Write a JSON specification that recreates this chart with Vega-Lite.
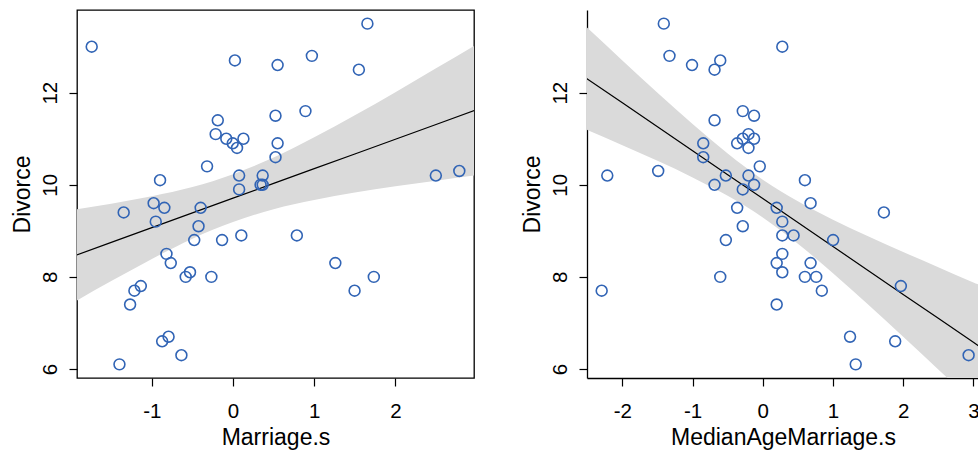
{
  "$schema": "https://vega.github.io/schema/vega-lite/v6.json",
  "padding": {"left": 10, "top": 9, "right": 0, "bottom": 0},
  "autosize": {"type": "pad"},
  "bounds": "flush",
  "spacing": 113,
  "background": "white",
  "config": {
    "view": {"stroke": null},
    "axis": {
      "labelFont": "Liberation Sans",
      "titleFont": "Liberation Sans",
      "labelFontSize": 20.5,
      "titleFontSize": 23,
      "titleFontWeight": "normal",
      "labelColor": "black",
      "titleColor": "black",
      "tickColor": "black",
      "tickSize": 8,
      "tickWidth": 1.2,
      "grid": false,
      "domainColor": "black",
      "domainWidth": 1.3,
      "labelFlush": false,
      "labelOverlap": false,
      "labelExpr": "datum.value < 0 ? '-' + abs(datum.value) : '' + datum.value"
    },
    "axisX": {"labelPadding": 15, "titleY": 66, "titleBaseline": "alphabetic"},
    "axisY": {
      "labelAngle": -90,
      "labelAlign": "center",
      "labelBaseline": "alphabetic",
      "labelPadding": 13,
      "titleX": -48,
      "titleY": 184,
      "titleAngle": -90,
      "titleAlign": "center",
      "titleBaseline": "alphabetic"
    }
  },
  "datasets": {
    "states": [
      {"Location": "Alabama", "M": 0.023, "A": -0.606, "D": 12.7},
      {"Location": "Alaska", "M": 1.55, "A": -0.687, "D": 12.5},
      {"Location": "Arizona", "M": 0.049, "A": -0.204, "D": 10.8},
      {"Location": "Arkansas", "M": 1.655, "A": -1.41, "D": 13.5},
      {"Location": "California", "M": -0.267, "A": 0.6, "D": 8.0},
      {"Location": "Colorado", "M": 0.892, "A": -0.285, "D": 11.6},
      {"Location": "Connecticut", "M": -0.794, "A": 1.243, "D": 6.7},
      {"Location": "Delaware", "M": 0.786, "A": 0.439, "D": 8.9},
      {"Location": "District of Columbia", "M": -0.636, "A": 2.932, "D": 6.3},
      {"Location": "Florida", "M": -0.82, "A": 0.278, "D": 8.5},
      {"Location": "Georgia", "M": 0.523, "A": -0.124, "D": 11.5},
      {"Location": "Hawaii", "M": 1.26, "A": 0.681, "D": 8.3},
      {"Location": "Idaho", "M": 1.497, "A": -2.295, "D": 7.7},
      {"Location": "Illinois", "M": -0.583, "A": 0.761, "D": 8.0},
      {"Location": "Indiana", "M": -0.083, "A": -0.285, "D": 11.0},
      {"Location": "Iowa", "M": 0.365, "A": -0.526, "D": 10.2},
      {"Location": "Kansas", "M": 0.523, "A": -0.848, "D": 10.6},
      {"Location": "Kentucky", "M": 0.549, "A": -1.008, "D": 12.6},
      {"Location": "Louisiana", "M": 0.128, "A": -0.124, "D": 11.0},
      {"Location": "Maine", "M": -1.741, "A": 0.278, "D": 13.0},
      {"Location": "Maryland", "M": -0.478, "A": 1.002, "D": 8.8},
      {"Location": "Massachusetts", "M": -1.136, "A": 1.967, "D": 7.8},
      {"Location": "Michigan", "M": -0.952, "A": 0.278, "D": 9.2},
      {"Location": "Minnesota", "M": -1.268, "A": 0.198, "D": 7.4},
      {"Location": "Mississippi", "M": -0.214, "A": -0.204, "D": 11.1},
      {"Location": "Missouri", "M": -0.399, "A": -0.365, "D": 9.5},
      {"Location": "Montana", "M": -0.425, "A": -0.285, "D": 9.1},
      {"Location": "Nebraska", "M": -0.135, "A": -0.526, "D": 8.8},
      {"Location": "New Hampshire", "M": -0.899, "A": 0.6, "D": 10.1},
      {"Location": "New Jersey", "M": -1.399, "A": 1.324, "D": 6.1},
      {"Location": "New Mexico", "M": 0.075, "A": -0.204, "D": 10.2},
      {"Location": "New York", "M": -0.873, "A": 1.886, "D": 6.6},
      {"Location": "North Carolina", "M": 0.075, "A": -0.285, "D": 9.9},
      {"Location": "North Dakota", "M": 1.734, "A": -0.606, "D": 8.0},
      {"Location": "Ohio", "M": -0.846, "A": 0.198, "D": 9.5},
      {"Location": "Oklahoma", "M": 0.971, "A": -1.329, "D": 12.8},
      {"Location": "Oregon", "M": -0.32, "A": -0.043, "D": 10.4},
      {"Location": "Pennsylvania", "M": -1.215, "A": 0.841, "D": 7.7},
      {"Location": "Rhode Island", "M": -1.347, "A": 1.725, "D": 9.4},
      {"Location": "South Carolina", "M": -0.53, "A": 0.278, "D": 8.1},
      {"Location": "South Dakota", "M": -0.004, "A": -0.365, "D": 10.9},
      {"Location": "Tennessee", "M": -0.188, "A": -0.687, "D": 11.4},
      {"Location": "Texas", "M": 0.365, "A": -0.687, "D": 10.0},
      {"Location": "Utah", "M": 2.498, "A": -2.215, "D": 10.2},
      {"Location": "Vermont", "M": -0.978, "A": 0.681, "D": 9.6},
      {"Location": "Virginia", "M": 0.102, "A": 0.278, "D": 8.9},
      {"Location": "Washington", "M": 0.339, "A": -0.124, "D": 10.0},
      {"Location": "West Virginia", "M": 0.549, "A": -0.848, "D": 10.9},
      {"Location": "Wisconsin", "M": -0.767, "A": 0.198, "D": 8.3},
      {"Location": "Wyoming", "M": 2.787, "A": -1.49, "D": 10.3}
    ],
    "bandM": [
      {"M": -3.0, "lo": 6.37, "mu": 7.79, "hi": 9.21},
      {"M": -2.5, "lo": 6.89, "mu": 8.11, "hi": 9.33},
      {"M": -2.0, "lo": 7.41, "mu": 8.43, "hi": 9.45},
      {"M": -1.5, "lo": 7.91, "mu": 8.75, "hi": 9.59},
      {"M": -1.0, "lo": 8.39, "mu": 9.07, "hi": 9.75},
      {"M": -0.5, "lo": 8.83, "mu": 9.39, "hi": 9.95},
      {"M": 0.0, "lo": 9.19, "mu": 9.71, "hi": 10.23},
      {"M": 0.5, "lo": 9.47, "mu": 10.03, "hi": 10.59},
      {"M": 1.0, "lo": 9.67, "mu": 10.35, "hi": 11.03},
      {"M": 1.5, "lo": 9.83, "mu": 10.67, "hi": 11.51},
      {"M": 2.0, "lo": 9.97, "mu": 10.99, "hi": 12.01},
      {"M": 2.5, "lo": 10.09, "mu": 11.31, "hi": 12.53},
      {"M": 3.0, "lo": 10.21, "mu": 11.63, "hi": 13.05},
      {"M": 3.5, "lo": 10.32, "mu": 11.95, "hi": 13.58}
    ],
    "bandA": [
      {"A": -3.0, "lo": 11.52, "mu": 12.82, "hi": 14.12},
      {"A": -2.5, "lo": 11.19, "mu": 12.3, "hi": 13.41},
      {"A": -2.0, "lo": 10.86, "mu": 11.78, "hi": 12.7},
      {"A": -1.5, "lo": 10.52, "mu": 11.26, "hi": 12.0},
      {"A": -1.0, "lo": 10.16, "mu": 10.74, "hi": 11.32},
      {"A": -0.5, "lo": 9.76, "mu": 10.22, "hi": 10.68},
      {"A": 0.0, "lo": 9.29, "mu": 9.7, "hi": 10.11},
      {"A": 0.5, "lo": 8.72, "mu": 9.18, "hi": 9.64},
      {"A": 1.0, "lo": 8.08, "mu": 8.66, "hi": 9.24},
      {"A": 1.5, "lo": 7.4, "mu": 8.14, "hi": 8.88},
      {"A": 2.0, "lo": 6.7, "mu": 7.62, "hi": 8.54},
      {"A": 2.5, "lo": 5.99, "mu": 7.1, "hi": 8.21},
      {"A": 3.0, "lo": 5.28, "mu": 6.58, "hi": 7.88},
      {"A": 3.5, "lo": 4.56, "mu": 6.06, "hi": 7.56}
    ]
  },
  "hconcat": [
    {
      "width": 397,
      "height": 368,
      "view": {"stroke": "black", "strokeWidth": 1.3},
      "encoding": {
        "x": {
          "field": "M",
          "type": "quantitative",
          "title": "Marriage.s",
          "scale": {"domain": [-1.922, 2.968], "nice": false, "zero": false},
          "axis": {"values": [-1, 0, 1, 2], "domain": false}
        }
      },
      "layer": [
        {
          "data": {"name": "bandM"},
          "mark": {"type": "area", "color": "#DADADA", "clip": true, "interpolate": "monotone"},
          "encoding": {
            "y": {
              "field": "lo",
              "type": "quantitative",
              "title": "Divorce",
              "scale": {"domain": [5.804, 13.796], "nice": false, "zero": false},
              "axis": {"values": [6, 8, 10, 12], "domain": false}
            },
            "y2": {"field": "hi"}
          }
        },
        {
          "data": {"name": "bandM"},
          "mark": {"type": "line", "color": "black", "strokeWidth": 1.2, "clip": true},
          "encoding": {"y": {"field": "mu", "type": "quantitative", "title": "Divorce"}}
        },
        {
          "data": {"name": "states"},
          "mark": {"type": "point", "shape": "circle", "filled": false, "color": "#3164B5", "size": 118, "strokeWidth": 1.6, "opacity": 1},
          "encoding": {"y": {"field": "D", "type": "quantitative", "title": "Divorce"}}
        }
      ]
    },
    {
      "width": 392,
      "height": 368,
      "view": {"stroke": null},
      "encoding": {
        "x": {
          "field": "A",
          "type": "quantitative",
          "title": "MedianAgeMarriage.s",
          "scale": {"domain": [-2.504, 3.08], "nice": false, "zero": false},
          "axis": {"values": [-2, -1, 0, 1, 2, 3], "domain": true}
        }
      },
      "layer": [
        {
          "data": {"name": "bandA"},
          "mark": {"type": "area", "color": "#DADADA", "clip": true, "interpolate": "monotone"},
          "encoding": {
            "y": {
              "field": "lo",
              "type": "quantitative",
              "title": "Divorce",
              "scale": {"domain": [5.804, 13.796], "nice": false, "zero": false},
              "axis": {"values": [6, 8, 10, 12], "domain": true}
            },
            "y2": {"field": "hi"}
          }
        },
        {
          "data": {"name": "bandA"},
          "mark": {"type": "line", "color": "black", "strokeWidth": 1.2, "clip": true},
          "encoding": {"y": {"field": "mu", "type": "quantitative", "title": "Divorce"}}
        },
        {
          "data": {"name": "states"},
          "mark": {"type": "point", "shape": "circle", "filled": false, "color": "#3164B5", "size": 118, "strokeWidth": 1.6, "opacity": 1},
          "encoding": {"y": {"field": "D", "type": "quantitative", "title": "Divorce"}}
        },
        {
          "data": {"values": [{}]},
          "mark": {"type": "rule", "color": "black", "strokeWidth": 1.3},
          "encoding": {"y": {"datum": 13.796}}
        }
      ]
    }
  ]
}
